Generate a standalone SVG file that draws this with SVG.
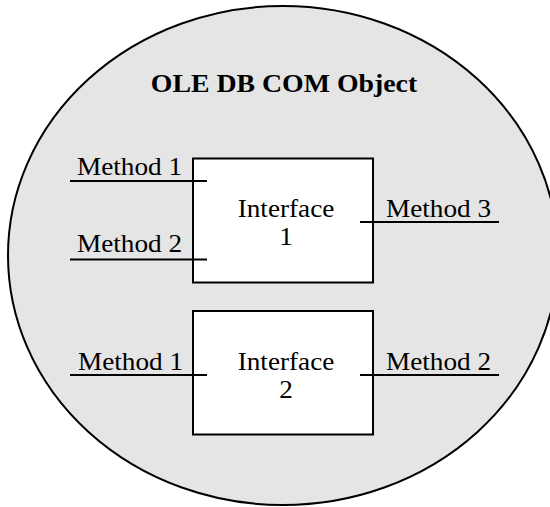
<svg xmlns="http://www.w3.org/2000/svg" width="550" height="507" viewBox="0 0 550 507">
<style>
.bg{fill:#e5e5e5;stroke:#000;stroke-width:2}
.box{fill:#fff;stroke:#000;stroke-width:2}
.ln{stroke:#000;stroke-width:2;fill:none}
text{font-family:"Liberation Serif","Times New Roman",serif;fill:#000}
.m{font-size:25px}
.c{font-size:25px;text-anchor:middle}
.t{font-size:26px;font-weight:bold;text-anchor:middle}
</style>
<rect width="550" height="507" fill="#fff"/>
<g id="com-object">
<ellipse class="bg" cx="283" cy="255.5" rx="275" ry="249.5"/>
<text class="t" transform="translate(284,92) scale(1.07,1)">OLE DB COM Object</text>
</g>
<g id="interface1">
<rect class="box" x="193" y="158.5" width="180" height="124"/>
<text class="c" transform="translate(286,217) scale(1.09,1)">Interface</text>
<text class="c" transform="translate(286,245) scale(1.09,1)">1</text>
</g>
<g id="interface2">
<rect class="box" x="193" y="311" width="180" height="123.5"/>
<text class="c" transform="translate(286,370) scale(1.09,1)">Interface</text>
<text class="c" transform="translate(286,398) scale(1.09,1)">2</text>
</g>
<g id="connectors">
<line class="ln" x1="70" y1="181" x2="207" y2="181"/>
<line class="ln" x1="70" y1="259.5" x2="207" y2="259.5"/>
<line class="ln" x1="360" y1="222" x2="499" y2="222"/>
<line class="ln" x1="70" y1="375" x2="207" y2="375"/>
<line class="ln" x1="360" y1="375" x2="499" y2="375"/>
</g>
<g id="labels">
<text class="m" transform="translate(77,175) scale(1.09,1)">Method 1</text>
<text class="m" transform="translate(77,252) scale(1.09,1)">Method 2</text>
<text class="m" transform="translate(386,217) scale(1.09,1)">Method 3</text>
<text class="m" transform="translate(78,370) scale(1.09,1)">Method 1</text>
<text class="m" transform="translate(386,370) scale(1.09,1)">Method 2</text>
</g>
</svg>
